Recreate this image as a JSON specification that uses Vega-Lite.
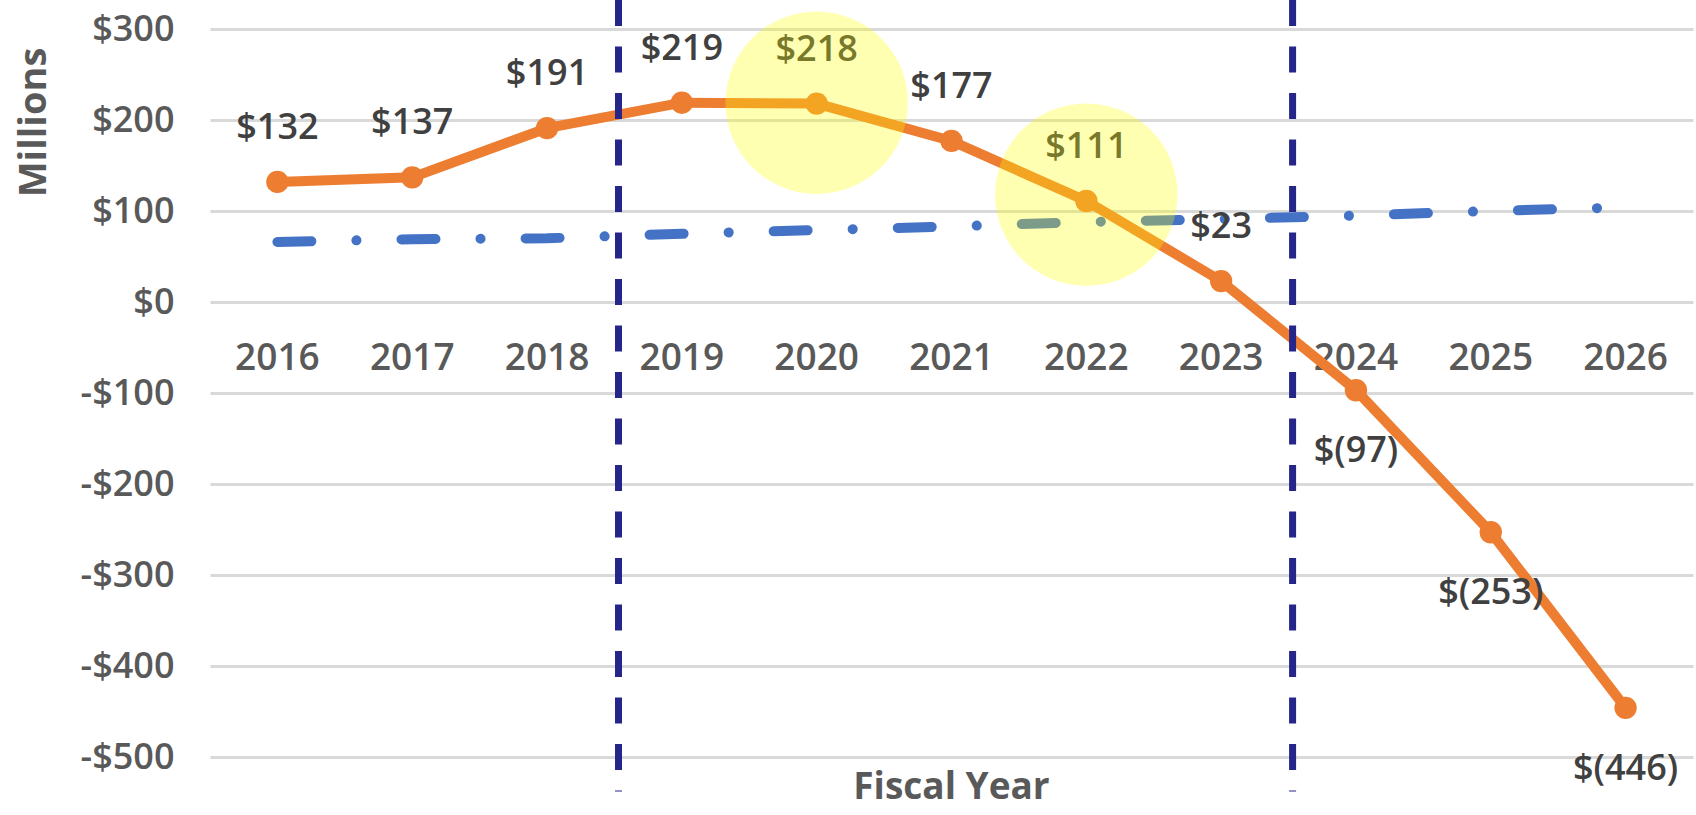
{
  "$schema": "https://vega.github.io/schema/vega-lite/v6.json",
  "width": 1483,
  "height": 728,
  "autosize": {"type": "none"},
  "padding": {"left": 210, "top": 29, "right": 3, "bottom": 58},
  "background": "white",
  "config": {"view": {"stroke": null}, "font": "Open Sans"},
  "title": {
    "text": "Fiscal Year",
    "orient": "bottom",
    "frame": "group",
    "anchor": "middle",
    "offset": -25,
    "font": "Open Sans",
    "fontSize": 37,
    "fontWeight": "bold",
    "color": "#595959"
  },
  "datasets": {
    "main": [
      {"year": "2016", "balance": 132, "label": "$132", "target": 66},
      {"year": "2017", "balance": 137, "label": "$137", "target": 69},
      {"year": "2018", "balance": 191, "label": "$191", "target": 70},
      {"year": "2019", "balance": 219, "label": "$219", "target": 75},
      {"year": "2020", "balance": 218, "label": "$218", "target": 79},
      {"year": "2021", "balance": 177, "label": "$177", "target": 83},
      {"year": "2022", "balance": 111, "label": "$111", "target": 88},
      {"year": "2023", "balance": 23, "label": "$23", "target": 91},
      {"year": "2024", "balance": -97, "label": "$(97)", "target": 95},
      {"year": "2025", "balance": -253, "label": "$(253)", "target": 100},
      {"year": "2026", "balance": -446, "label": "$(446)", "target": 104}
    ],
    "highlights": [
      {"year": "2020", "value": 219},
      {"year": "2022", "value": 118}
    ],
    "boundaries": [
      {"year": "2019"},
      {"year": "2024"}
    ]
  },
  "encoding": {
    "x": {
      "field": "year",
      "type": "ordinal",
      "scale": {
        "type": "band",
        "paddingInner": 0,
        "paddingOuter": 0,
        "domain": ["2016", "2017", "2018", "2019", "2020", "2021", "2022", "2023", "2024", "2025", "2026"]
      },
      "axis": {
        "orient": "bottom",
        "offset": -454.7,
        "domain": false,
        "ticks": false,
        "tickSize": 0,
        "grid": false,
        "labelAngle": 0,
        "labelPadding": 38,
        "labelFont": "Open Sans",
        "labelFontSize": 37,
        "labelFontWeight": 600,
        "labelColor": "#595959",
        "title": null
      }
    }
  },
  "layer": [
    {
      "data": {"name": "main"},
      "mark": {
        "type": "line",
        "color": "#4472C4",
        "strokeWidth": 10,
        "strokeCap": "round",
        "strokeDash": [34, 45, 0.1, 45]
      },
      "encoding": {
        "y": {
          "field": "target",
          "type": "quantitative",
          "title": "Millions",
          "scale": {"domain": [-500, 300], "nice": false, "zero": false},
          "axis": {
            "values": [-500, -400, -300, -200, -100, 0, 100, 200, 300],
            "labelExpr": "datum.value < 0 ? '-$' + abs(datum.value) : '$' + datum.value",
            "domain": false,
            "ticks": false,
            "tickSize": 0,
            "grid": true,
            "gridColor": "#D9D9D9",
            "gridWidth": 3,
            "labelPadding": 36,
            "labelFont": "Open Sans",
            "labelFontSize": 36,
            "labelFontWeight": 600,
            "labelColor": "#595959",
            "title": "Millions",
            "titleFont": "Open Sans",
            "titleFontSize": 38,
            "titleFontWeight": "bold",
            "titleColor": "#595959",
            "titleAngle": -90,
            "titleAlign": "center",
            "titleBaseline": "middle",
            "titleX": -176,
            "titleY": 93
          }
        }
      }
    },
    {
      "data": {"name": "main"},
      "mark": {"type": "line", "color": "#ED7D31", "strokeWidth": 10},
      "encoding": {
        "y": {"field": "balance", "type": "quantitative", "title": "Millions"}
      }
    },
    {
      "data": {"name": "main"},
      "mark": {"type": "point", "shape": "circle", "filled": true, "opacity": 1, "color": "#ED7D31", "size": 500},
      "encoding": {
        "y": {"field": "balance", "type": "quantitative", "title": "Millions"}
      }
    },
    {
      "data": {"name": "main"},
      "transform": [{"filter": "datum.balance >= 0"}],
      "mark": {"type": "text", "font": "Open Sans", "fontSize": 36, "fontWeight": 600, "color": "#404040", "baseline": "middle", "align": "center", "dy": -54},
      "encoding": {
        "y": {"field": "balance", "type": "quantitative", "title": "Millions"},
        "text": {"field": "label"}
      }
    },
    {
      "data": {"name": "main"},
      "transform": [{"filter": "datum.balance < 0"}],
      "mark": {"type": "text", "font": "Open Sans", "fontSize": 36, "fontWeight": 600, "color": "#404040", "baseline": "middle", "align": "center", "dy": 61},
      "encoding": {
        "y": {"field": "balance", "type": "quantitative", "title": "Millions"},
        "text": {"field": "label"}
      }
    },
    {
      "data": {"name": "highlights"},
      "mark": {"type": "point", "shape": "circle", "filled": true, "color": "#FFFF00", "opacity": 0.3, "size": 33300},
      "encoding": {
        "y": {"field": "value", "type": "quantitative", "title": "Millions"}
      }
    },
    {
      "data": {"name": "boundaries"},
      "mark": {"type": "rule", "color": "#25258A", "strokeWidth": 7, "strokeDash": [26, 20.5]},
      "encoding": {
        "x": {"field": "year", "type": "ordinal", "bandPosition": 0.03},
        "y": {"datum": 332},
        "y2": {"datum": -538}
      }
    }
  ]
}
